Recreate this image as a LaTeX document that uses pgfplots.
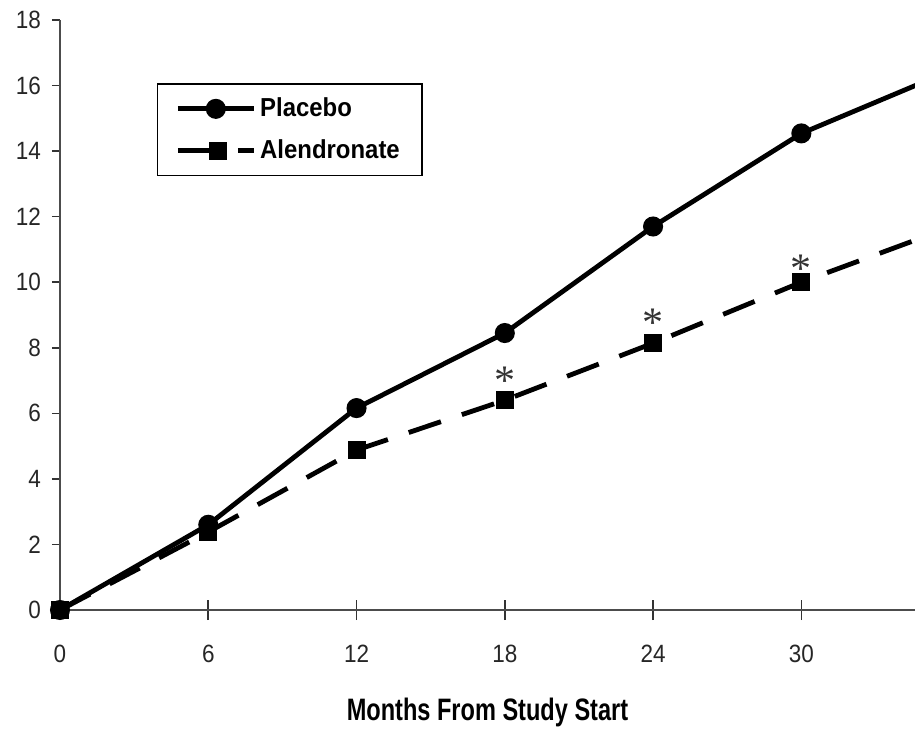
\documentclass[border=0pt]{standalone}
\usepackage{fontspec}
\setmainfont{Liberation Sans}[FakeStretch=0.9]
\newfontfamily\labfont{Liberation Sans}[FakeStretch=0.76]
\newfontfamily\legfont{Liberation Sans}[FakeStretch=0.92]
\newfontfamily\astfont{Liberation Serif}
\usepackage{pgfplots}
\pgfplotsset{compat=1.18}
\pgfplotsset{
  placebo legend/.style={legend image code/.code={\draw[##1, mark repeat=2, mark phase=2] plot coordinates {(0pt,0pt)(19pt,0pt)(38pt,0pt)};}},
  alen legend/.style={legend image code/.code={\draw[##1, solid] (0pt,0pt) -- (22.5pt,0pt); \draw[##1, solid] (30pt,0pt) -- (38pt,0pt); \draw[##1] plot coordinates {(20pt,0pt)};}},
}
\begin{document}
\begin{tikzpicture}
\path[use as bounding box] (0,0) rectangle (457.5pt,366.5pt);
\begin{axis}[
  at={(30pt,61.5pt)}, anchor=south west,
  scale only axis, width=427.5pt, height=295pt,
  xmin=0, xmax=34.6, ymin=0, ymax=18,
  axis lines=left, axis line style={-, black!70, line width=0.8pt},
  xtick={0,6,12,18,24,30}, ytick={0,2,...,18},
  tick align=outside,
  major tick length=10pt,
  tick style={black!80, line width=0.8pt},
  x tick style={yshift=5pt},
  y tick style={xscale=0.4},
  /pgf/number format/assume math mode=true,
  ticklabel style={font=\fontsize{12.5}{14}\selectfont, text=black!85},
  xticklabel style={yshift=-4pt},
  yticklabel style={xshift=4pt},
  xlabel={Months From Study Start},
  xlabel style={font=\labfont\fontsize{15.5}{17}\selectfont\bfseries, yshift=-11pt},
  clip=true,
  legend style={at={(0.113,0.893)}, anchor=north west, draw=black, line width=0.8pt,
    font=\legfont\fontsize{13}{14}\selectfont\bfseries, inner xsep=9pt, inner ysep=5pt, row sep=6pt},
  legend cell align=left,
]
\addplot[black, line width=2.4pt, mark=*, mark size=3.8pt, mark options={solid}, placebo legend]
 coordinates {(0,0) (6,2.6) (12,6.16) (18,8.45) (24,11.7) (30,14.54) (36,16.44)};
\addlegendentry{Placebo}
\addplot[black, line width=2.4pt, dash pattern=on 17pt off 11pt, mark=square*, mark size=3.3pt, mark options={solid}, alen legend]
 coordinates {(0,0) (6,2.38) (12,4.88) (18,6.4) (24,8.14) (30,10.0) (36,11.67)};
\addlegendentry{Alendronate}
\addplot[draw=none, mark=none, forget plot, nodes near coords={\astfont\fontsize{21}{21}\selectfont *}, nodes near coords align={center}, every node near coord/.append style={text=black!80}]
 coordinates {(18,7.0) (24,8.75) (30,10.4)};
\end{axis}
\end{tikzpicture}
\end{document}
